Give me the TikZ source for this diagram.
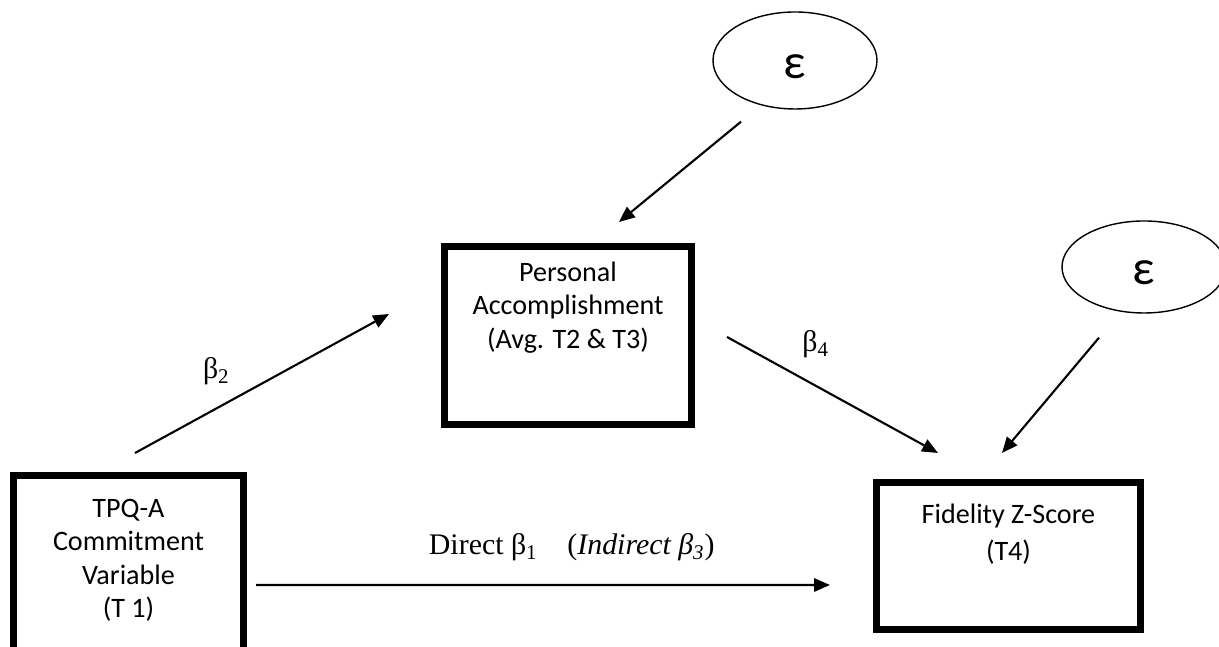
\documentclass[tikz,border=0pt]{standalone}
\usepackage{fontspec}
\setmainfont{Carlito}
\newfontfamily\serifgreek{Liberation Serif}
\usetikzlibrary{arrows.meta,shapes.geometric}

\begin{document}
\begin{tikzpicture}[
measure/.style={
	% The shape:
	rectangle,
	% The border:
	line width=4pt, draw=black, outer sep=0pt,
	% text starts at the top of the box
	anchor=north, inner xsep=0pt,
	% Font
	font=\fontsize{16}{19}\selectfont},
residual/.style={
	% The shape:
	ellipse, minimum width=3.28cm, minimum height=1.94cm, inner sep=0pt,
	% The border:
	line width=0.8pt, draw=black,
	% glyph sits a little below the middle
	text height=0.72cm, text depth=0pt,
	font=\fontsize{28}{30}\selectfont},
effect/.style={line width=1.2pt, -{Triangle[length=9pt,width=7.5pt]}},
coef/.style={inner sep=0pt, font=\serifgreek\fontsize{17}{20}\selectfont}]

\useasboundingbox (0,0) rectangle (24.38,12.94);
\clip (0,0) rectangle (24.38,12.94);

% the three measured variables
\node (tpq) [measure, inner ysep=0.47cm] at (2.57,3.43)
	{\parbox[t][4cm][t]{4.6cm}{\centering TPQ-A\\ Commitment\\ Variable\\ (T 1)}};
\node (pa) [measure, inner ysep=0.31cm] at (11.36,8.01)
	{\parbox[t][2.94cm][t]{4.94cm}{\centering Personal\\ Accomplishment\\ (Avg. T2 \& T3)}};
\node (fid) [measure, inner ysep=0.43cm, font=\fontsize{16}{21}\selectfont] at (20.17,3.29)
	{\parbox[t][2.08cm][t]{5.28cm}{\centering Fidelity Z-Score\\ (T4)}};

% error terms
\node (eps1) [residual] at (15.90,11.73) {ε};
\node (eps2) [residual, minimum height=1.84cm] at (22.88,7.60) {ε};

% paths
\draw[effect] ([shift={(0.13,0.45)}]tpq.north) -- node (b2) [coef, pos=0.32, yshift=0.74cm] {β\textsubscript{2}} ([shift={(-1.11,0.43)}]pa.west);
\draw[effect] ([shift={(-1.08,-0.24)}]eps1.south) -- ([shift={(1.02,0.49)}]pa.north);
\draw[effect] ([shift={(0.71,-0.03)}]pa.east) -- node (b4) [coef, pos=0.42, yshift=0.83cm] {β\textsubscript{4}} ([shift={(-1.41,0.59)}]fid.north);
\draw[effect] ([shift={(-0.90,-0.48)}]eps2.south) -- ([shift={(-0.13,0.59)}]fid.north);
\draw[effect] ([shift={(0.25,-2.19)}]tpq.north east) -- node (b1) [coef, pos=0.55, yshift=0.75cm] {Direct β\textsubscript{1}\quad(\textit{Indirect β\textsubscript{3}})} ([shift={(-0.93,0.89)}]fid.south west);

\end{tikzpicture}
\end{document}
